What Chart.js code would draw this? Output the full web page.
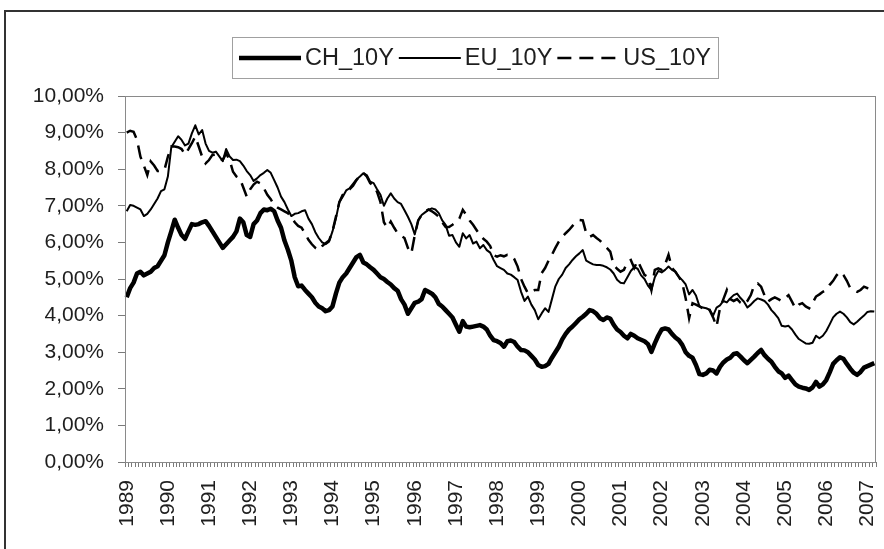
<!DOCTYPE html>
<html><head><meta charset="utf-8">
<script src="https://cdn.jsdelivr.net/npm/chart.js@4.4.0/dist/chart.umd.min.js"></script>
<style>html,body{margin:0;padding:0;background:#fff;}canvas{display:block}</style>
</head><body>
<canvas id="c" width="884" height="549"></canvas>
<script>
const firstYear = 1989;
const yearLabels = ['1989','1990','1991','1992','1993','1994','1995','1996','1997','1998','1999','2000','2001','2002','2003','2004','2005','2006','2007'];
const seriesNames = ['CH_10Y','EU_10Y','US_10Y'];
const yTickValues = [0,1,2,3,4,5,6,7,8,9,10];

const ch10y = [
4.50,4.75,4.90,5.15,5.20,5.10,5.15,5.20,5.30,5.35,
5.50,5.65,6.00,6.30,6.62,6.40,6.20,6.10,6.30,6.50,
6.48,6.50,6.55,6.58,6.45,6.30,6.15,6.00,5.85,5.95,
6.05,6.15,6.30,6.65,6.55,6.20,6.15,6.50,6.60,6.80,
6.90,6.88,6.92,6.85,6.60,6.40,6.05,5.80,5.50,5.05,
4.80,4.82,4.70,4.60,4.50,4.35,4.25,4.20,4.12,4.15,
4.25,4.60,4.90,5.05,5.15,5.30,5.45,5.60,5.66,5.45,
5.40,5.32,5.25,5.15,5.05,5.00,4.92,4.85,4.75,4.68,
4.45,4.30,4.05,4.20,4.35,4.38,4.45,4.70,4.65,4.60,
4.50,4.32,4.25,4.15,4.05,3.95,3.75,3.56,3.85,3.70,
3.68,3.70,3.72,3.74,3.70,3.62,3.45,3.33,3.30,3.25,
3.15,3.30,3.32,3.28,3.15,3.06,3.05,3.00,2.90,2.80,
2.65,2.60,2.62,2.68,2.85,3.00,3.15,3.35,3.50,3.62,
3.70,3.80,3.90,3.97,4.05,4.15,4.12,4.05,3.93,3.88,
3.95,3.92,3.75,3.62,3.55,3.45,3.38,3.50,3.45,3.38,
3.34,3.30,3.22,3.01,3.24,3.45,3.62,3.65,3.62,3.50,
3.40,3.33,3.20,3.00,2.90,2.85,2.65,2.40,2.38,2.42,
2.52,2.50,2.42,2.60,2.72,2.80,2.85,2.95,2.97,2.88,
2.78,2.70,2.79,2.88,2.98,3.06,2.92,2.82,2.74,2.60,
2.48,2.42,2.30,2.36,2.24,2.12,2.06,2.03,2.01,1.97,
2.04,2.19,2.06,2.12,2.24,2.45,2.68,2.78,2.86,2.82,
2.68,2.55,2.44,2.38,2.46,2.58,2.62,2.66,2.70];

const eu10y = [
6.85,7.02,7.00,6.95,6.90,6.72,6.78,6.90,7.05,7.20,
7.40,7.45,7.80,8.60,8.75,8.90,8.80,8.65,8.70,8.98,
9.20,8.95,9.07,8.70,8.50,8.45,8.48,8.35,8.22,8.55,
8.35,8.25,8.26,8.22,8.10,7.95,7.84,7.68,7.75,7.84,
7.90,7.98,7.90,7.70,7.50,7.25,7.10,6.90,6.72,6.78,
6.80,6.85,6.88,6.65,6.50,6.28,6.12,6.00,5.95,6.02,
6.30,6.65,7.10,7.25,7.42,7.48,7.60,7.72,7.80,7.89,
7.84,7.66,7.62,7.45,7.30,7.00,7.20,7.34,7.20,7.10,
7.05,6.88,6.70,6.50,6.22,6.60,6.75,6.82,6.89,6.93,
6.90,6.80,6.60,6.48,6.18,6.20,6.00,5.88,6.25,6.11,
6.20,5.97,6.02,5.84,5.93,5.79,5.72,5.52,5.35,5.30,
5.25,5.15,5.12,5.05,4.97,4.65,4.40,4.52,4.30,4.15,
3.90,4.06,4.20,4.10,4.45,4.80,5.00,5.12,5.30,5.40,
5.52,5.62,5.70,5.79,5.50,5.45,5.40,5.38,5.38,5.36,
5.32,5.26,5.15,4.98,4.90,4.88,5.05,5.22,5.32,5.28,
5.10,5.00,4.82,4.70,5.05,5.22,5.18,5.25,5.34,5.25,
5.20,5.06,4.97,4.85,4.58,4.70,4.55,4.26,4.22,4.20,
4.16,4.00,4.22,4.28,4.40,4.36,4.47,4.56,4.60,4.48,
4.38,4.22,4.30,4.40,4.47,4.44,4.40,4.30,4.15,4.05,
3.93,3.72,3.70,3.72,3.62,3.48,3.36,3.30,3.24,3.23,
3.26,3.45,3.38,3.45,3.58,3.76,3.95,4.05,4.11,4.05,
3.95,3.82,3.76,3.83,3.92,4.00,4.10,4.12,4.11];

const us10y = [
9.00,9.05,9.02,8.80,8.34,8.10,7.84,8.21,8.10,7.95,
7.96,7.98,8.34,8.62,8.62,8.60,8.55,8.40,8.55,8.71,
8.89,8.62,8.34,8.16,8.25,8.39,8.40,8.30,8.25,8.43,
8.25,7.93,7.80,7.75,7.50,7.25,7.45,7.58,7.66,7.61,
7.48,7.30,7.18,7.02,6.95,6.90,6.85,6.80,6.70,6.55,
6.45,6.40,6.25,6.07,5.95,5.85,5.79,5.90,5.98,6.05,
6.30,6.70,7.10,7.30,7.40,7.45,7.55,7.70,7.82,7.90,
7.80,7.62,7.55,7.38,7.10,6.55,6.40,6.57,6.40,6.25,
6.18,6.12,5.85,5.70,6.20,6.60,6.75,6.85,6.90,6.85,
6.78,6.70,6.55,6.42,6.42,6.48,6.55,6.65,6.89,6.75,
6.60,6.48,6.34,6.20,6.10,6.02,5.90,5.65,5.61,5.65,
5.62,5.66,5.66,5.55,5.34,5.00,4.79,4.61,4.65,4.70,
4.70,5.16,5.30,5.50,5.66,5.85,6.02,6.15,6.25,6.34,
6.45,6.55,6.61,6.60,6.25,6.15,6.20,6.12,6.05,5.95,
5.85,5.75,5.38,5.28,5.20,5.25,5.47,5.52,5.30,5.50,
5.30,5.11,5.06,4.70,5.25,5.29,5.25,5.40,5.66,5.30,
5.20,5.06,4.90,4.47,3.93,4.34,4.30,4.25,4.20,4.10,
4.15,3.95,3.70,4.20,4.45,4.70,4.45,4.40,4.45,4.35,
4.30,4.40,4.56,4.84,4.88,4.79,4.55,4.38,4.45,4.50,
4.45,4.40,4.48,4.56,4.38,4.20,4.30,4.34,4.25,4.20,
4.35,4.52,4.58,4.65,4.70,4.84,4.95,5.10,5.20,5.11,
4.95,4.75,4.70,4.65,4.70,4.79,4.75,4.68,4.65];

const monthLabels = ch10y.map((_, i) => (firstYear + Math.floor(i / 12)) + '-' + String(i % 12 + 1).padStart(2, '0'));

const FONT = '"Liberation Sans", Arial, sans-serif';
const TEXT = '#1e1e1e';
const AXIS = '#7a7a7a';

const framePlugin = {
  id: 'frame',
  beforeDraw(chart) {
    const ctx = chart.ctx;
    ctx.save();
    ctx.fillStyle = '#fff';
    ctx.fillRect(0, 0, chart.width, chart.height);
    ctx.strokeStyle = '#333';
    ctx.lineWidth = 2;
    ctx.beginPath();
    ctx.moveTo(5, chart.height);
    ctx.lineTo(5, 11);
    ctx.lineTo(chart.width, 11);
    ctx.stroke();
    ctx.restore();
  },
  afterDatasetsDraw(chart) {
    const a = chart.chartArea, ctx = chart.ctx;
    ctx.save();
    ctx.strokeStyle = '#8a8a8a';
    ctx.lineWidth = 1;
    ctx.strokeRect(Math.round(a.left) + 0.5, Math.round(a.top) + 0.5, Math.round(a.right - a.left) - 1, Math.round(a.bottom - a.top));
    ctx.restore();
  }
};

const legendPlugin = {
  id: 'boxLegend',
  afterDraw(chart) {
    const ctx = chart.ctx;
    ctx.save();
    ctx.font = '23.5px ' + FONT;
    const sampleLen = 62, gapText = 4, gapItem = 5, pad = 7;
    const ds = chart.data.datasets;
    const widths = ds.map(d => ctx.measureText(d.label).width);
    let total = pad * 2;
    widths.forEach((w, i) => { total += sampleLen + gapText + w + (i < widths.length - 1 ? gapItem : 0); });
    const cx = 474.5, top = 37, h = 41;
    const left = Math.round(cx - total / 2);
    ctx.strokeStyle = '#a0a0a0';
    ctx.lineWidth = 1;
    ctx.strokeRect(left + 0.5, top + 0.5, Math.round(total), h);
    let x = left + pad;
    const y = top + h / 2 + 0.5;
    ds.forEach((d, i) => {
      ctx.beginPath();
      ctx.strokeStyle = d.borderColor;
      ctx.lineWidth = d.borderWidth;
      ctx.setLineDash(d.borderDash || []);
      ctx.moveTo(x, y);
      ctx.lineTo(x + sampleLen, y);
      ctx.stroke();
      ctx.setLineDash([]);
      x += sampleLen + gapText;
      ctx.fillStyle = TEXT;
      ctx.textBaseline = 'middle';
      ctx.textAlign = 'left';
      ctx.fillText(d.label, x, y + 1);
      x += widths[i] + gapItem;
    });
    ctx.restore();
  }
};

new Chart(document.getElementById('c'), {
  type: 'line',
  data: {
    labels: monthLabels,
    datasets: [
      { label: seriesNames[0], data: ch10y, borderColor: '#000', borderWidth: 4.5, pointRadius: 0, tension: 0, fill: false, borderJoinStyle: 'round' },
      { label: seriesNames[1], data: eu10y, borderColor: '#000', borderWidth: 2, pointRadius: 0, tension: 0, fill: false, borderJoinStyle: 'round' },
      { label: seriesNames[2], data: us10y, borderColor: '#000', borderWidth: 2.5, borderDash: [14, 8], pointRadius: 0, tension: 0, fill: false }
    ]
  },
  options: {
    responsive: false,
    animation: false,
    devicePixelRatio: 1,
    layout: { padding: { top: 96, right: 8, bottom: 0, left: 0 } },
    plugins: { legend: { display: false }, tooltip: { enabled: false } },
    scales: {
      x: {
        type: 'category',
        offset: true,
        grid: { display: true, drawOnChartArea: false, offset: true, tickLength: 5, color: AXIS, lineWidth: 1 },
        border: { display: true, color: AXIS, width: 1 },
        ticks: {
          autoSkip: false, minRotation: 90, maxRotation: 90, padding: 13,
          color: TEXT, font: { family: FONT, size: 21 },
          callback: function (v, i) {
            const lab = monthLabels[i];
            if (lab.endsWith('-01')) {
              const yr = lab.slice(0, 4);
              return yearLabels.includes(yr) ? yr : '';
            }
            return '';
          }
        },
        afterFit(scale) { scale.height = 87; scale.paddingLeft = 0; scale.paddingRight = 0; }
      },
      y: {
        min: 0, max: 10,
        grid: { display: true, drawOnChartArea: false, tickLength: 7, color: AXIS, lineWidth: 1 },
        border: { display: true, color: AXIS, width: 1 },
        afterBuildTicks(scale) { scale.ticks = yTickValues.map(v => ({ value: v })); },
        ticks: {
          padding: 14, color: TEXT, font: { family: FONT, size: 21 },
          callback: v => v.toFixed(2).replace('.', ',') + '%'
        },
        afterFit(scale) { scale.width = 125; scale.paddingTop = 0; scale.paddingBottom = 0; }
      }
    }
  },
  plugins: [framePlugin, legendPlugin]
});
</script>
</body></html>
